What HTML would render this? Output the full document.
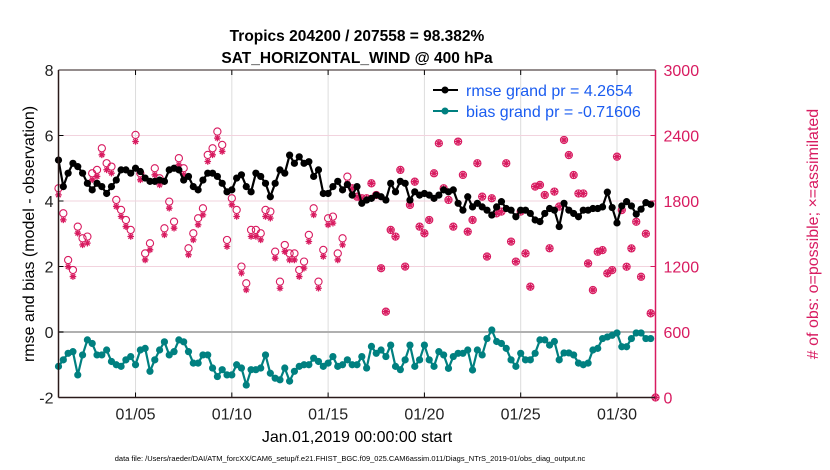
<!DOCTYPE html>
<html><head><meta charset="utf-8"><style>
body{margin:0;background:#fff;}
svg{display:block;font-family:"Liberation Sans",Arial,sans-serif;}
</style></head><body>
<svg id="chart" width="830" height="470" viewBox="0 0 830 470">
<rect x="0" y="0" width="830" height="470" fill="#fff"/>
<text x="357" y="41" text-anchor="middle" font-size="15.5" font-weight="bold">Tropics 204200 / 207558 = 98.382%</text>
<text x="357" y="63" text-anchor="middle" font-size="15.5" font-weight="bold">SAT_HORIZONTAL_WIND @ 400 hPa</text>
<g id="grid"></g>
<g id="marks"></g>
<g id="axes"></g>
<text transform="translate(34,234) rotate(-90)" text-anchor="middle" font-size="16">rmse and bias (model - observation)</text>
<text transform="translate(818,234) rotate(-90)" text-anchor="middle" font-size="16" fill="#d81b60"># of obs: o=possible; ×=assimilated</text>
<text x="357" y="442" text-anchor="middle" font-size="16">Jan.01,2019 00:00:00 start</text>
<text x="350" y="461" text-anchor="middle" font-size="7.5">data file: /Users/raeder/DAI/ATM_forcXX/CAM6_setup/f.e21.FHIST_BGC.f09_025.CAM6assim.011/Diags_NTrS_2019-01/obs_diag_output.nc</text>
<g>
<line x1="433" y1="90" x2="458" y2="90" stroke="#000" stroke-width="2"/>
<circle cx="445" cy="90" r="3.5" fill="#000"/>
<text x="466" y="96" font-size="16" fill="#1a5cf0">rmse grand pr = 4.2654</text>
<line x1="433" y1="111" x2="458" y2="111" stroke="#008080" stroke-width="2"/>
<circle cx="445" cy="111" r="3.5" fill="#008080"/>
<text x="466" y="117" font-size="16" fill="#1a5cf0">bias grand pr = -0.71606</text>
</g>
</svg>
<script>
const rmse=[5.25,4.44,4.85,5.15,5.05,4.85,4.54,4.34,4.54,4.44,4.23,4.44,4.64,4.95,4.95,4.85,5.0,4.9,4.7,4.6,4.6,4.64,4.6,4.95,5.0,4.95,4.64,4.75,4.44,4.34,4.64,4.85,4.85,4.75,4.54,4.28,4.34,4.7,4.8,4.44,4.28,
4.85,4.75,4.54,4.13,4.54,4.95,4.85,5.4,5.15,5.35,5.15,5.2,4.75,4.95,4.23,4.23,4.44,4.6,4.34,4.5,4.18,4.44,3.93,4.03,4.08,4.18,4.13,4.03,4.54,4.28,4.6,4.54,4.03,4.28,4.18,4.23,4.18,4.08,4.18,4.34,
4.28,4.34,3.93,3.72,4.13,3.82,3.93,3.82,3.72,3.57,3.82,3.98,3.77,3.72,3.52,3.72,3.72,3.62,3.42,3.37,3.62,3.77,3.72,3.22,3.93,3.72,3.62,3.52,
3.72,3.72,3.77,3.77,3.82,4.27,3.8,3.33,3.85,3.98,3.85,3.6,3.75,3.95,3.9];
const bias=[-1.05,-0.85,-0.65,-0.6,-1.31,-0.7,-0.24,-0.35,-0.7,-0.7,-0.55,-0.9,-1.0,-1.05,-0.85,-0.75,-1.0,-0.55,-0.5,-1.2,-0.85,-0.55,-0.3,-0.7,-0.6,-0.24,-0.3,-0.6,-0.95,-0.95,-0.7,-0.7,-1.1,-1.36,-1.15,-1.31,-1.31,-1.0,-1.1,-1.62,-1.15,
-1.15,-1.1,-0.7,-1.26,-1.41,-1.46,-1.1,-1.5,-1.2,-1.05,-1.0,-1.0,-0.8,-0.9,-1.05,-0.95,-0.75,-1.05,-1.0,-0.85,-1.0,-1.0,-0.75,-1.1,-0.44,-0.65,-0.55,-0.75,-0.4,-1.05,-1.15,-0.85,-0.4,-1.05,-0.85,-0.4,-0.85,-1.05,-0.6,-0.7,
-1.11,-0.75,-0.65,-0.65,-0.55,-1.16,-0.55,-0.7,-0.2,0.06,-0.29,-0.35,-0.5,-0.85,-1.05,-0.65,-0.85,-0.85,-0.65,-0.24,-0.24,-0.4,-0.29,-0.85,
-0.64,-0.64,-0.7,-0.95,-1.0,-0.95,-0.55,-0.5,-0.2,-0.15,-0.1,-0.03,-0.45,-0.45,-0.2,-0.03,-0.03,-0.2,-0.2];
const obsPossible=[1916,1687,1259,1168,1565,1458,1474,2054,2085,2283,2146,2115,1810,1718,1626,1535,2405,2054,1320,1413,2100,2008,1550,1794,1611,2192,2100,1367,1504,1642,1733,2222,2283,2436,2314,1443,1825,1718,1199,1046,1535,
1535,1504,1718,1703,1336,1061,1397,1320,1320,1168,1245,1489,1733,1061,1352,1642,1657,1320,1458,2023,1916,1840,1825,1825,1962,1855,1184,786,1535,1474,2085,1199,1764,1977,1565,1504,1626,2054,2329,1916,
1810,1565,2344,2039,1519,1626,2146,1840,1291,1825,1687,1703,2146,1428,1245,1703,1320,1015,1932,1947,1855,1367,1886,1749,
2359,2221,2038,1869,1869,1228,984,1335,1350,1137,1167,2206,1717,1198,1366,1610,1106,1500,771,0];
const obsAssim=[1856,1627,1199,1108,1505,1398,1414,1994,2025,2223,2086,2055,1750,1658,1566,1475,2345,1994,1260,1353,2040,1948,1490,1734,1551,2132,2040,1307,1444,1582,1673,2162,2223,2376,2254,1383,1765,1658,1139,986,1475,
1475,1444,1658,1643,1276,1001,1337,1260,1260,1108,1185,1429,1673,1001,1292,1582,1597,1260,1398,1963,1916,1840,1825,1825,1962,1855,1184,786,1535,1474,2085,1199,1764,1977,1565,1504,1626,2054,2329,1916,
1810,1565,2344,2039,1519,1626,2146,1840,1291,1825,1687,1703,2146,1428,1245,1703,1320,1015,1932,1947,1855,1367,1886,1749,
2359,2221,2038,1869,1869,1228,984,1335,1350,1137,1167,2206,1717,1198,1366,1610,1106,1500,771,0];
const leftTicks=[8,6,4,2,0,-2];
const rightTicks=[0,600,1200,1800,2400,3000];
const dateTicks=[4,9,14,19,24,29];
const dateLabels=["01/05","01/10","01/15","01/20","01/25","01/30"];
const stepDays=0.25;

const X0=58.5,X1=655.5,Y0=70,Y1=397.5;
function xs(t){return X0+(t/31)*(X1-X0);}
function yl(v){return Y1-(v+2)/10*(Y1-Y0);}
function yr(v){return Y1-v/3000*(Y1-Y0);}
const NS="http://www.w3.org/2000/svg";
function mk(tag,attrs,parent){const e=document.createElementNS(NS,tag);for(const k in attrs)e.setAttribute(k,attrs[k]);parent.appendChild(e);return e;}
const grid=document.getElementById('grid'),marks=document.getElementById('marks'),axes=document.getElementById('axes');
const MAG="#d81b60",TEAL="#008080";

dateTicks.forEach((d,i)=>{
  const l=mk('line',{x1:xs(d),x2:xs(d),y1:Y0,y2:Y1,stroke:'#dcdcdc','stroke-width':1},grid);
  
  
  const t1=mk('line',{x1:xs(d),x2:xs(d),y1:Y1,y2:Y1-5,stroke:'#000'},axes);
  
  
  const t2=mk('line',{x1:xs(d),x2:xs(d),y1:Y0,y2:Y0+5,stroke:'#000'},axes);
  
  
  const tx=mk('text',{x:xs(d),y:Y1+22,'text-anchor':'middle','font-size':16,fill:'#222'},axes);
  tx.textContent=dateLabels[i];
  
  
});
rightTicks.forEach(v=>{
  if(v>0&&v<3000){
    const g=mk('line',{x1:X0,x2:X1,y1:yr(v),y2:yr(v),stroke:'#f2d3de','stroke-width':1},grid);
    
    
  }
  const t=mk('line',{x1:X1,x2:X1-5,y1:yr(v),y2:yr(v),stroke:MAG},axes);
  
  
  const tx=mk('text',{x:X1+8,y:yr(v)+6,'font-size':16,fill:MAG},axes);
  tx.textContent=v;
  
  
});
leftTicks.forEach(v=>{
  const t=mk('line',{x1:X0,x2:X0+5,y1:yl(v),y2:yl(v),stroke:'#000'},axes);
  
  
  const tx=mk('text',{x:X0-5,y:yl(v)+6,'text-anchor':'end','font-size':16,fill:'#222'},axes);
  tx.textContent=v;
  
  
});
const zl=mk('line',{x1:X0,x2:X1,y1:yl(0),y2:yl(0),stroke:'#b0b0b0','stroke-width':2},grid);



obsPossible.forEach((v,i)=>{
  const c=mk('circle',{cx:xs(i*stepDays),cy:yr(v),r:3.6,fill:'none',stroke:MAG,'stroke-width':1.1},marks);
  
  
});
obsAssim.forEach((v,i)=>{
  const x=xs(i*stepDays),y=yr(v),r=3.3,d=r*0.7;
  const p=mk('path',{d:`M${x-r},${y}H${x+r}M${x},${y-r}V${y+r}M${x-d},${y-d}L${x+d},${y+d}M${x-d},${y+d}L${x+d},${y-d}`,stroke:MAG,'stroke-width':1.3,fill:'none'},marks);
  
  
});
function series(arr,color,name){
  const pts=arr.map((v,i)=>xs(i*stepDays).toFixed(1)+','+yl(v).toFixed(1)).join(' ');
  const pl=mk('polyline',{points:pts,fill:'none',stroke:color,'stroke-width':2.2,'stroke-linejoin':'round'},marks);
  
  
  arr.forEach((v,i)=>{
    const c=mk('circle',{cx:xs(i*stepDays),cy:yl(v),r:3.6,fill:color},marks);
    
    
  });
}
series(rmse,'#000','rmse');
series(bias,TEAL,'bias');

const la=mk('line',{x1:X0,x2:X0,y1:Y0,y2:Y1,stroke:'#2a1a1a','stroke-width':1.5},axes);


const ba=mk('line',{x1:X0,x2:X1,y1:Y1,y2:Y1,stroke:'#2a1a1a','stroke-width':1.5},axes);


const ta=mk('line',{x1:X0,x2:X1,y1:Y0,y2:Y0,stroke:'#2a1a1a','stroke-width':1},axes);


const ra=mk('line',{x1:X1,x2:X1,y1:Y0,y2:Y1,stroke:MAG,'stroke-width':1.5},axes);


</script>
</body></html>
